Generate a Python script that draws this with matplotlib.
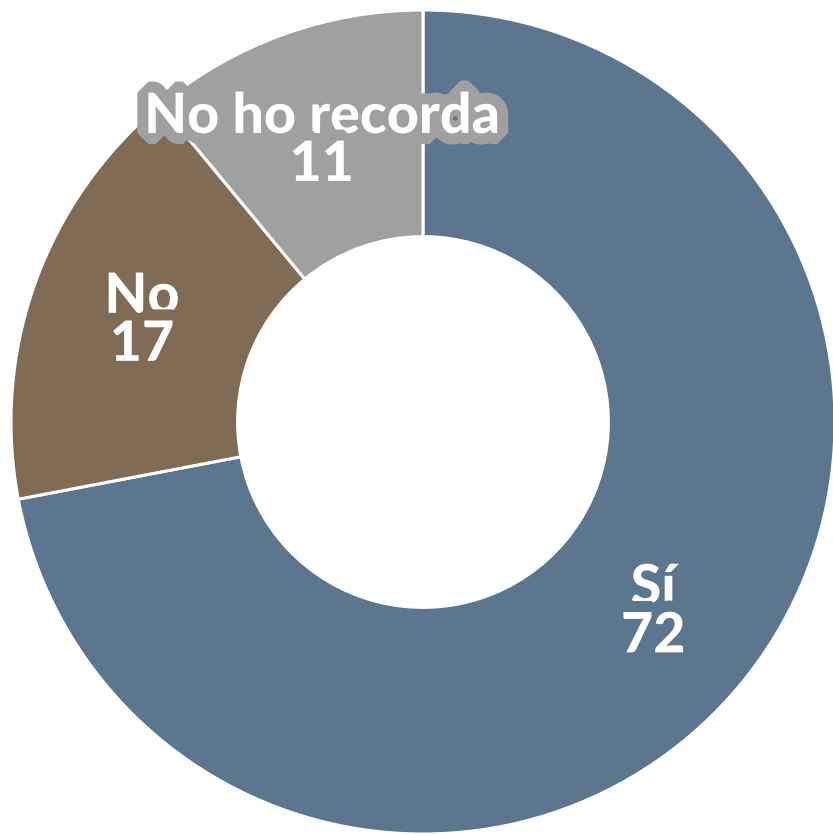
import matplotlib

matplotlib.use("Agg")
import matplotlib.pyplot as plt
import matplotlib.patheffects as pe
import numpy as np

labels = ["Sí", "No", "No ho recorda"]
values = [72, 17, 11]
colors = ["#5b768e", "#806c54", "#a0a0a0"]

R = 412.0
cx, cy = 423.0, 422.0
W, H = 833, 834
inner = 0.45

fig = plt.figure(figsize=(W / 100, H / 100), dpi=100)
ax = fig.add_axes([0, 0, 1, 1])
ax.axis("off")

wedges, _ = ax.pie(
    values,
    colors=colors,
    startangle=90,
    counterclock=False,
    radius=1.0,
    wedgeprops=dict(width=1 - inner, edgecolor="white", linewidth=2.2),
)
ax.set_xlim(-cx / R, (W - cx) / R)
ax.set_ylim(-(H - cy) / R, cy / R)
ax.set_aspect("auto")

# label each wedge at the middle of the ring, with a halo in the wedge colour
label_r = (1 + inner) / 2
for w, lab, val, col in zip(wedges, labels, values, colors):
    mid = np.deg2rad((w.theta1 + w.theta2) / 2)
    x, y = label_r * np.cos(mid), label_r * np.sin(mid)
    ax.text(
        x, y, f"{lab}\n{val}",
        ha="center", va="center", multialignment="center",
        fontsize=40, fontweight="black", family="Lato", color="white",
        linespacing=0.95,
        path_effects=[pe.withStroke(linewidth=16, foreground=col,
                                    joinstyle="bevel")],
    )

fig.savefig("out.png", dpi=100)
